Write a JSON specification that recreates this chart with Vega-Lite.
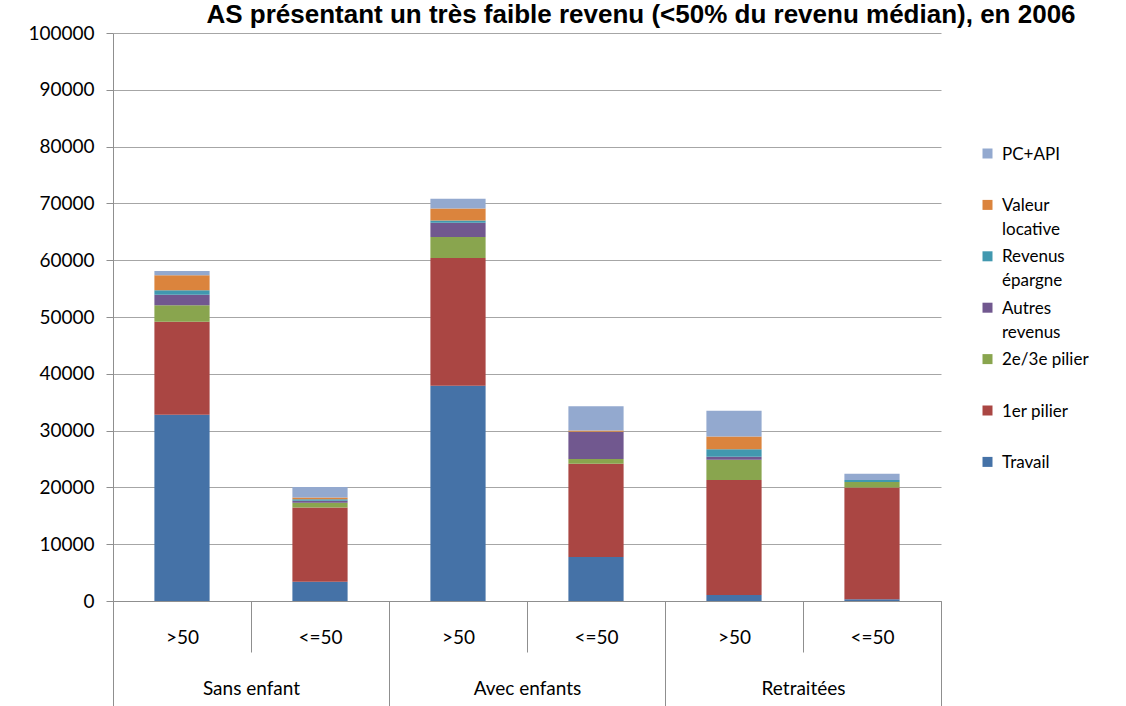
{
  "$schema": "https://vega.github.io/schema/vega-lite/v6.json",
  "autosize": "none",
  "width": 828,
  "height": 568,
  "padding": {"left": 113, "top": 33, "right": 185, "bottom": 105},
  "background": "white",
  "title": {
    "text": "AS présentant un très faible revenu (<50% du revenu médian), en 2006",
    "font": "Liberation Sans",
    "fontSize": 26,
    "fontWeight": "bold",
    "color": "black",
    "anchor": "middle",
    "frame": "group",
    "baseline": "alphabetic",
    "dx": 114,
    "offset": -25
  },
  "config": {
    "view": {"stroke": null},
    "axis": {"labelFont": "Lato", "labelFontSize": 19, "labelColor": "black", "domainColor": "#8f8f8f", "tickColor": "#8f8f8f"}
  },
  "data": {
    "values": [
      {"cat": "Sans enfant|>50", "group": "Sans enfant", "serie": "Travail", "k": 1, "v": 32800},
      {"cat": "Sans enfant|>50", "group": "Sans enfant", "serie": "1er pilier", "k": 2, "v": 16350},
      {"cat": "Sans enfant|>50", "group": "Sans enfant", "serie": "2e/3e pilier", "k": 3, "v": 2930},
      {"cat": "Sans enfant|>50", "group": "Sans enfant", "serie": "Autres revenus", "k": 4, "v": 1820},
      {"cat": "Sans enfant|>50", "group": "Sans enfant", "serie": "Revenus épargne", "k": 5, "v": 830},
      {"cat": "Sans enfant|>50", "group": "Sans enfant", "serie": "Valeur locative", "k": 6, "v": 2640},
      {"cat": "Sans enfant|>50", "group": "Sans enfant", "serie": "PC+API", "k": 7, "v": 710},
      {"cat": "Sans enfant|<=50", "group": "Sans enfant", "serie": "Travail", "k": 1, "v": 3400},
      {"cat": "Sans enfant|<=50", "group": "Sans enfant", "serie": "1er pilier", "k": 2, "v": 13050},
      {"cat": "Sans enfant|<=50", "group": "Sans enfant", "serie": "2e/3e pilier", "k": 3, "v": 850},
      {"cat": "Sans enfant|<=50", "group": "Sans enfant", "serie": "Autres revenus", "k": 4, "v": 350},
      {"cat": "Sans enfant|<=50", "group": "Sans enfant", "serie": "Revenus épargne", "k": 5, "v": 250},
      {"cat": "Sans enfant|<=50", "group": "Sans enfant", "serie": "Valeur locative", "k": 6, "v": 300},
      {"cat": "Sans enfant|<=50", "group": "Sans enfant", "serie": "PC+API", "k": 7, "v": 1850},
      {"cat": "Avec enfants|>50", "group": "Avec enfants", "serie": "Travail", "k": 1, "v": 37900},
      {"cat": "Avec enfants|>50", "group": "Avec enfants", "serie": "1er pilier", "k": 2, "v": 22500},
      {"cat": "Avec enfants|>50", "group": "Avec enfants", "serie": "2e/3e pilier", "k": 3, "v": 3700},
      {"cat": "Avec enfants|>50", "group": "Avec enfants", "serie": "Autres revenus", "k": 4, "v": 2500},
      {"cat": "Avec enfants|>50", "group": "Avec enfants", "serie": "Revenus épargne", "k": 5, "v": 400},
      {"cat": "Avec enfants|>50", "group": "Avec enfants", "serie": "Valeur locative", "k": 6, "v": 2100},
      {"cat": "Avec enfants|>50", "group": "Avec enfants", "serie": "PC+API", "k": 7, "v": 1700},
      {"cat": "Avec enfants|<=50", "group": "Avec enfants", "serie": "Travail", "k": 1, "v": 7760},
      {"cat": "Avec enfants|<=50", "group": "Avec enfants", "serie": "1er pilier", "k": 2, "v": 16400},
      {"cat": "Avec enfants|<=50", "group": "Avec enfants", "serie": "2e/3e pilier", "k": 3, "v": 840},
      {"cat": "Avec enfants|<=50", "group": "Avec enfants", "serie": "Autres revenus", "k": 4, "v": 4750},
      {"cat": "Avec enfants|<=50", "group": "Avec enfants", "serie": "Revenus épargne", "k": 5, "v": 50},
      {"cat": "Avec enfants|<=50", "group": "Avec enfants", "serie": "Valeur locative", "k": 6, "v": 230},
      {"cat": "Avec enfants|<=50", "group": "Avec enfants", "serie": "PC+API", "k": 7, "v": 4250},
      {"cat": "Retraitées|>50", "group": "Retraitées", "serie": "Travail", "k": 1, "v": 1060},
      {"cat": "Retraitées|>50", "group": "Retraitées", "serie": "1er pilier", "k": 2, "v": 20240},
      {"cat": "Retraitées|>50", "group": "Retraitées", "serie": "2e/3e pilier", "k": 3, "v": 3570},
      {"cat": "Retraitées|>50", "group": "Retraitées", "serie": "Autres revenus", "k": 4, "v": 530},
      {"cat": "Retraitées|>50", "group": "Retraitées", "serie": "Revenus épargne", "k": 5, "v": 1300},
      {"cat": "Retraitées|>50", "group": "Retraitées", "serie": "Valeur locative", "k": 6, "v": 2280},
      {"cat": "Retraitées|>50", "group": "Retraitées", "serie": "PC+API", "k": 7, "v": 4520},
      {"cat": "Retraitées|<=50", "group": "Retraitées", "serie": "Travail", "k": 1, "v": 300},
      {"cat": "Retraitées|<=50", "group": "Retraitées", "serie": "1er pilier", "k": 2, "v": 19690},
      {"cat": "Retraitées|<=50", "group": "Retraitées", "serie": "2e/3e pilier", "k": 3, "v": 950},
      {"cat": "Retraitées|<=50", "group": "Retraitées", "serie": "Autres revenus", "k": 4, "v": 30},
      {"cat": "Retraitées|<=50", "group": "Retraitées", "serie": "Revenus épargne", "k": 5, "v": 330},
      {"cat": "Retraitées|<=50", "group": "Retraitées", "serie": "Valeur locative", "k": 6, "v": 0},
      {"cat": "Retraitées|<=50", "group": "Retraitées", "serie": "PC+API", "k": 7, "v": 1120}
    ]
  },
  "layer": [
    {
      "mark": {"type": "bar", "width": {"band": 0.4}},
      "encoding": {
        "x": {
          "field": "cat", "type": "nominal", "sort": null,
          "scale": {"paddingInner": 0, "paddingOuter": 0},
          "axis": {
            "orient": "bottom", "title": null, "tickBand": "extent", "tickSize": 51,
            "labelAngle": 0, "labelBaseline": "middle", "labelPadding": -15,
            "labelExpr": "split(datum.value, '|')[1]",
            "labelOverlap": false, "labelFlush": false, "labelBound": false,
            "domain": true, "grid": false
          }
        },
        "y": {
          "field": "v", "type": "quantitative", "aggregate": "sum", "stack": "zero",
          "scale": {"domain": [0, 100000], "nice": false},
          "axis": {
            "title": null, "values": [0, 10000, 20000, 30000, 40000, 50000, 60000, 70000, 80000, 90000, 100000],
            "format": "d", "grid": true, "gridColor": "#a6a6a6", "tickSize": 7, "labelPadding": 12
          }
        },
        "color": {
          "field": "serie", "type": "nominal",
          "scale": {
            "domain": ["PC+API", "Valeur locative", "Revenus épargne", "Autres revenus", "2e/3e pilier", "1er pilier", "Travail"],
            "range": ["#93A9CF", "#DB843D", "#4198AF", "#71588F", "#89A54E", "#AA4643", "#4572A7"]
          },
          "legend": {
            "title": null, "orient": "none", "legendX": 866, "legendY": 112,
            "symbolType": "square", "symbolSize": 100, "symbolStrokeWidth": 0,
            "labelFont": "Lato", "labelFontSize": 17, "labelColor": "black", "labelLimit": 200,
            "labelExpr": "datum.value == 'Valeur locative' ? ['Valeur', 'locative'] : datum.value == 'Revenus épargne' ? ['Revenus', 'épargne'] : datum.value == 'Autres revenus' ? ['Autres', 'revenus'] : [datum.value, '']",
            "labelBaseline": "top", "labelOffset": 6, "rowPadding": 9.4,
            "encode": {"labels": {"update": {"dy": {"value": -7}, "lineHeight": {"value": 24}}}}
          }
        },
        "order": {"field": "k", "type": "quantitative", "sort": "ascending"}
      }
    },
    {
      "mark": {"type": "point", "opacity": 0},
      "encoding": {
        "x": {
          "field": "group", "type": "nominal", "sort": null,
          "scale": {"paddingInner": 0, "paddingOuter": 0},
          "axis": {
            "orient": "bottom", "title": null, "tickBand": "extent", "tickSize": 105,
            "labelAngle": 0, "labelBaseline": "middle", "labelPadding": -18,
            "labelOverlap": false, "labelFlush": false, "labelBound": false,
            "domain": false, "grid": false
          }
        },
        "y": {"field": "v", "type": "quantitative"}
      }
    }
  ],
  "resolve": {"scale": {"x": "independent"}}
}
